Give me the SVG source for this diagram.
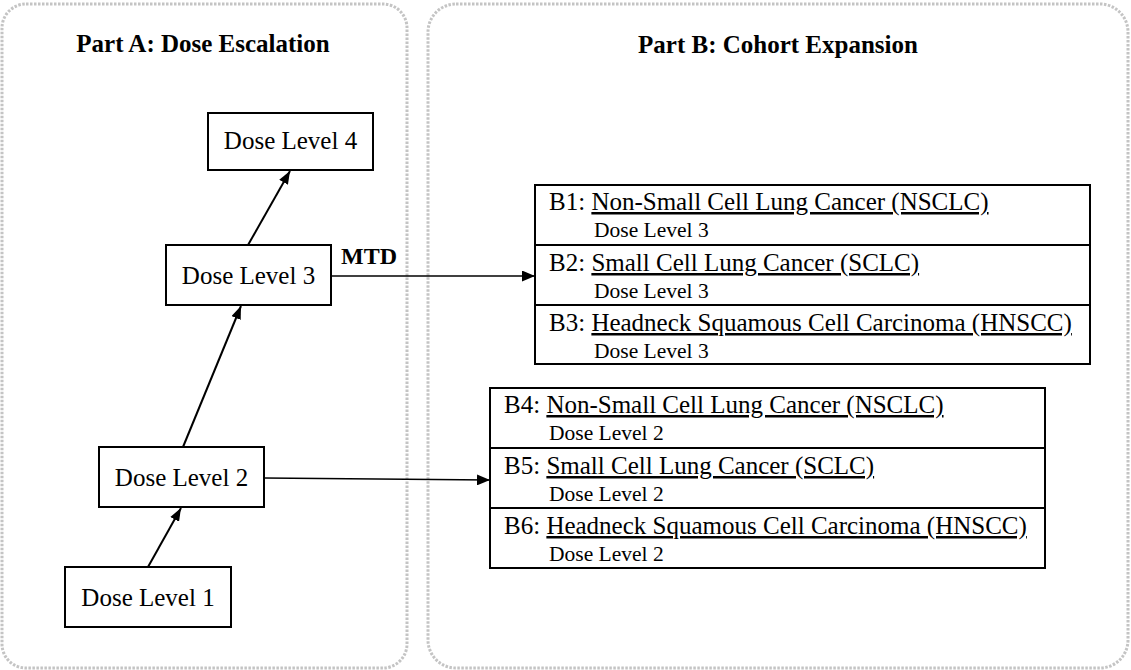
<svg xmlns="http://www.w3.org/2000/svg" width="1131" height="670" viewBox="0 0 1131 670">
<style>
.panel{fill:none;stroke:#c4c4c4;stroke-width:3;stroke-dasharray:2.5 1.5}
.box{fill:#fff;stroke:#000;stroke-width:2}
.t{font-family:"Liberation Serif","Times New Roman",serif;fill:#000}
.title{font-size:25px;font-weight:bold;text-anchor:middle}
.node{font-size:25px;text-anchor:middle}
.main{font-size:25px}
.sub{font-size:21.5px}
.conn{stroke:#000;stroke-width:2;fill:none}
.conn1{stroke:#000;stroke-width:1.3;fill:none}
</style>
<defs>
<marker id="ah" viewBox="0 0 13 10" refX="13" refY="5" markerWidth="13" markerHeight="10" markerUnits="userSpaceOnUse" orient="auto">
<path d="M0,0 L13,5 L0,10 z" fill="#000"/>
</marker>
<marker id="ah2" viewBox="0 0 13 11" refX="13" refY="5.5" markerWidth="13" markerHeight="11" markerUnits="userSpaceOnUse" orient="auto">
<path d="M0,0 L13,5.5 L0,11 z" fill="#000"/>
</marker>
</defs>
<g id="panels">
<rect class="panel" x="2" y="4" width="405" height="664" rx="24"/>
<rect class="panel" x="428" y="4" width="700" height="664" rx="28"/>
<text class="t title" x="203" y="52">Part A: Dose Escalation</text>
<text class="t title" x="778" y="53">Part B: Cohort Expansion</text>
</g>
<g id="connectors">
<line class="conn" x1="148" y1="567" x2="181" y2="508" marker-end="url(#ah)"/>
<line class="conn" x1="183" y1="447" x2="241" y2="306" marker-end="url(#ah)"/>
<line class="conn" x1="248" y1="245" x2="290" y2="171" marker-end="url(#ah)"/>
<line class="conn1" x1="331" y1="276" x2="535" y2="276" marker-end="url(#ah2)"/>
<line class="conn1" x1="264" y1="478" x2="490" y2="480" marker-end="url(#ah2)"/>
<text class="t" x="341" y="264" font-size="24" font-weight="bold">MTD</text>
</g>
<g id="dl4"><rect class="box" x="208" y="113" width="165" height="57"/><text class="t node" x="290.5" y="149">Dose Level 4</text></g>
<g id="dl3"><rect class="box" x="166" y="245" width="165" height="60"/><text class="t node" x="248.5" y="284">Dose Level 3</text></g>
<g id="dl2"><rect class="box" x="99" y="447" width="165" height="60"/><text class="t node" x="181.5" y="486">Dose Level 2</text></g>
<g id="dl1"><rect class="box" x="65" y="567" width="166" height="60"/><text class="t node" x="148" y="606">Dose Level 1</text></g>
<g id="groupB13">
<rect class="box" x="535" y="185" width="555" height="179"/>
<line class="conn" x1="535" y1="245" x2="1090" y2="245"/>
<line class="conn" x1="535" y1="305" x2="1090" y2="305"/>
</g>
<g id="b1"><text class="t main" x="549" y="210">B1: <tspan text-decoration="underline">Non-Small Cell Lung Cancer (NSCLC)</tspan></text><text class="t sub" x="594" y="237">Dose Level 3</text></g>
<g id="b2"><text class="t main" x="549" y="271">B2: <tspan text-decoration="underline">Small Cell Lung Cancer (SCLC)</tspan></text><text class="t sub" x="594" y="298">Dose Level 3</text></g>
<g id="b3"><text class="t main" x="549" y="331">B3: <tspan text-decoration="underline">Headneck Squamous Cell Carcinoma (HNSCC)</tspan></text><text class="t sub" x="594" y="358">Dose Level 3</text></g>
<g id="groupB46">
<rect class="box" x="490" y="388" width="555" height="180"/>
<line class="conn" x1="490" y1="448" x2="1045" y2="448"/>
<line class="conn" x1="490" y1="508" x2="1045" y2="508"/>
</g>
<g id="b4"><text class="t main" x="504" y="413">B4: <tspan text-decoration="underline">Non-Small Cell Lung Cancer (NSCLC)</tspan></text><text class="t sub" x="549" y="440">Dose Level 2</text></g>
<g id="b5"><text class="t main" x="504" y="474">B5: <tspan text-decoration="underline">Small Cell Lung Cancer (SCLC)</tspan></text><text class="t sub" x="549" y="501">Dose Level 2</text></g>
<g id="b6"><text class="t main" x="504" y="534">B6: <tspan text-decoration="underline">Headneck Squamous Cell Carcinoma (HNSCC)</tspan></text><text class="t sub" x="549" y="561">Dose Level 2</text></g>
</svg>
